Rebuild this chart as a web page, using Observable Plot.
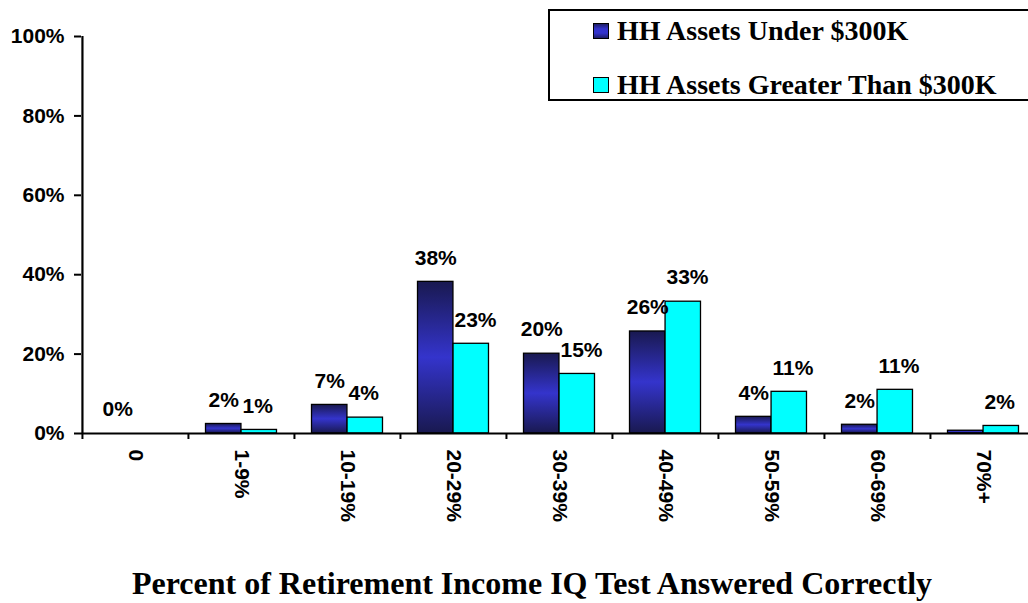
<!DOCTYPE html>
<html>
<head>
<meta charset="utf-8">
<script src="https://cdn.jsdelivr.net/npm/d3@7"></script>
<script src="https://cdn.jsdelivr.net/npm/@observablehq/plot@0.6"></script>
<style>
  body { margin: 0; background: #fff; }
  #wrap { position: relative; width: 1028px; height: 603px; overflow: hidden; background: #fff; }
  #chart svg { display: block; }
  #legend { position: absolute; left: 548px; top: 9px; width: 520px; height: 92px; box-sizing: border-box;
            border: 2px solid #000; background: #fff; }
  .sw { position: absolute; left: 43px; width: 16px; height: 16px; box-sizing: border-box; border: 1.5px solid #000; }
  .lt { position: absolute; left: 67px; font-family: "Liberation Serif", "Times New Roman", serif; font-weight: bold;
        font-size: 28px; line-height: 32px; white-space: nowrap; color: #000; }
  #title { margin-top: 5px; height: 36px; line-height: 36px; text-align: center; padding-left: 36px;
           font-family: "Liberation Serif", "Times New Roman", serif; font-weight: bold; font-size: 32px; color: #000; white-space: nowrap; }
</style>
</head>
<body>
<div id="wrap">
  <div id="chart"></div>
  <div id="title"></div>
  <div id="legend"></div>
</div>
<script>
// ---- data ----
const categories = ["0", "1-9%", "10-19%", "20-29%", "30-39%", "40-49%", "50-59%", "60-69%", "70%+"];
const underValues = [0, 2.4, 7.2, 38.2, 20.1, 25.7, 4.2, 2.2, 0.7];
const overValues  = [0, 0.9, 4.0, 22.6, 15.0, 33.2, 10.5, 11.0, 1.9];
const underLabels = ["0%", "2%", "7%", "38%", "20%", "26%", "4%", "2%", ""];
const overLabels  = ["", "1%", "4%", "23%", "15%", "33%", "11%", "11%", "2%"];
const yTicks = [0, 20, 40, 60, 80, 100];
const seriesNames = ["HH Assets Under $300K", "HH Assets Greater Than $300K"];
const xTitle = "Percent of Retirement Income IQ Test Answered Correctly";

const rows = categories.map((c, i) => ({
  cat: c, under: underValues[i], over: overValues[i], ul: underLabels[i], ol: overLabels[i]
}));

// ---- layout ----
const W = 1028, H = 560;
const mL = 81, mR = -8, mT = 36, mB = 127;
const step = (W - mR - mL) / categories.length;
const half = step / 2;
const barW = step * 0.335;

const labelFont = { fontSize: 21, fontWeight: "bold", fill: "#000" };

const chart = Plot.plot({
  width: W, height: H,
  marginLeft: mL, marginRight: mR, marginTop: mT, marginBottom: mB,
  style: { fontFamily: '"Liberation Sans", Arial, sans-serif', fontSize: "21px", fontWeight: "bold", color: "#000", background: "transparent" },
  x: { domain: categories, padding: 0, label: null, axis: null },
  y: { domain: [0, 100], label: null, axis: null },
  marks: [
    Plot.barY(rows, { x: "cat", y: "under", fill: "url(#darkGrad)", stroke: "#000", strokeWidth: 1.3,
                      insetLeft: half - barW, insetRight: half }),
    Plot.barY(rows, { x: "cat", y: "over", fill: "#00ffff", stroke: "#000", strokeWidth: 1.3,
                      insetLeft: half, insetRight: half - barW }),
    Plot.ruleY([0], { stroke: "#000", strokeWidth: 2.2 }),
    Plot.ruleX([categories[0]], { y1: 0, y2: 100, dx: -half, stroke: "#000", strokeWidth: 2.2 }),
    Plot.axisY({ ticks: yTicks, tickSize: 7, tickPadding: 10, tickFormat: d => d + "%", strokeWidth: 2,
                 fontSize: 21, fontWeight: "bold", label: null }),
    Plot.axisX({ tickSize: 6, tickFormat: () => "", dx: -half, strokeWidth: 2, label: null }),
    Plot.axisX({ tickSize: 0, tickRotate: 90, tickPadding: 16, fontSize: 21, fontWeight: "bold", label: null }),
    Plot.text(rows, { x: "cat", y: "under", text: "ul", dx: -barW / 2, dy: -24, ...labelFont }),
    Plot.text(rows, { x: "cat", y: "over", text: "ol", dx: 1, dy: -24, textAnchor: "start", ...labelFont })
  ]
});

// gradient for the dark bars
const svg = d3.select(chart);
const defs = svg.insert("defs", ":first-child");
const grad = defs.append("linearGradient").attr("id", "darkGrad")
  .attr("x1", 0).attr("y1", 0).attr("x2", 0).attr("y2", 1);
[[0, "#191950"], [0.5, "#3434cc"], [1, "#191950"]].forEach(([o, c]) =>
  grad.append("stop").attr("offset", o).attr("stop-color", c));

document.getElementById("chart").appendChild(chart);
document.getElementById("title").textContent = xTitle;

// legend
const legend = document.getElementById("legend");
const swatches = [
  "linear-gradient(to bottom, #1e1e66, #3333cc 35%, #3333cc 65%, #1e1e66)",
  "#00ffff"
];
const rowTops = [{ sw: 11.7, txt: 4.3 }, { sw: 65.7, txt: 57.6 }];
seriesNames.forEach((name, i) => {
  const s = document.createElement("div");
  s.className = "sw";
  s.style.top = rowTops[i].sw + "px";
  s.style.background = swatches[i];
  legend.appendChild(s);
  const t = document.createElement("div");
  t.className = "lt";
  t.style.top = rowTops[i].txt + "px";
  t.textContent = name;
  legend.appendChild(t);
});
</script>
</body>
</html>
